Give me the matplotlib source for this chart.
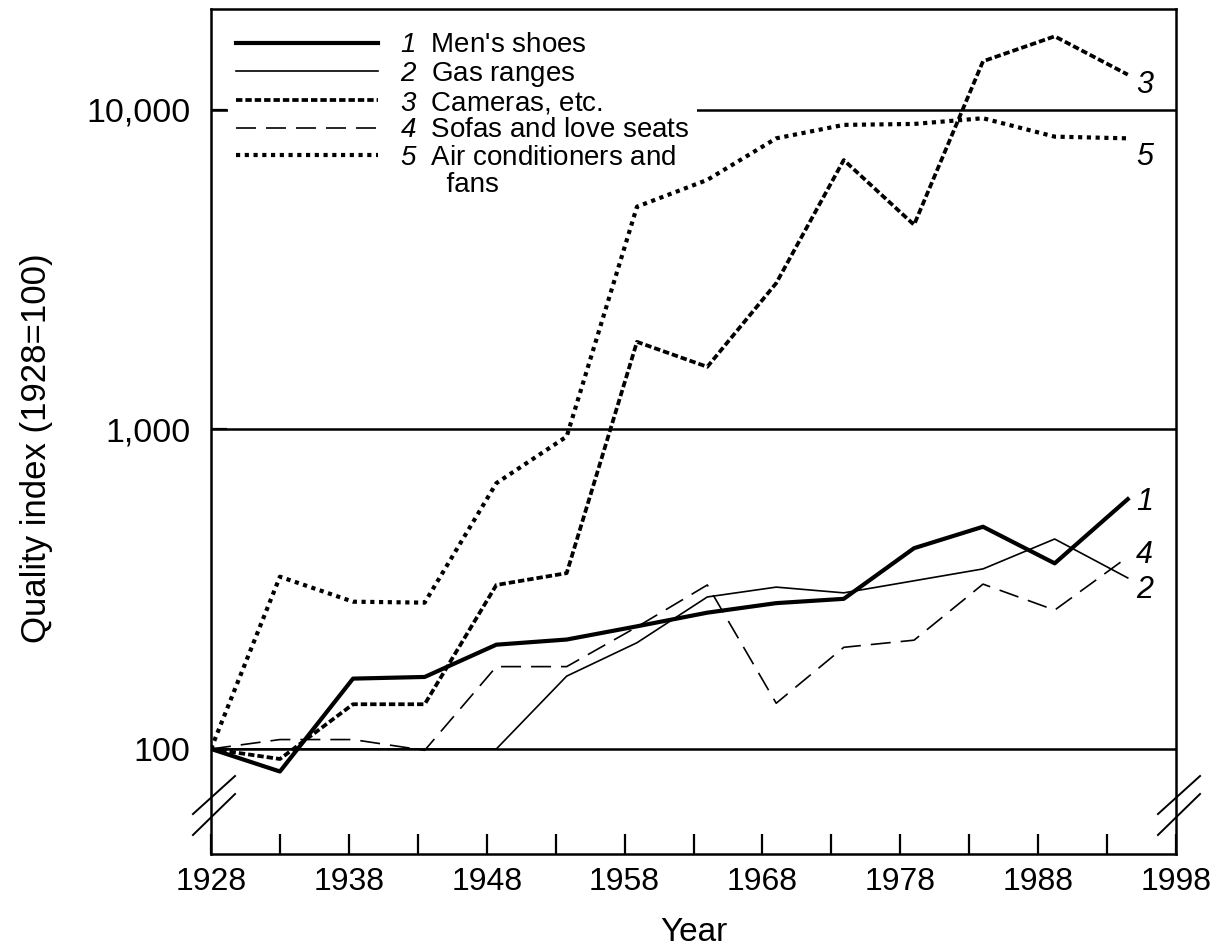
import matplotlib
matplotlib.use('Agg')
import matplotlib.pyplot as plt
from matplotlib.lines import Line2D
from matplotlib.ticker import NullLocator

plt.rcParams['font.family'] = ['Liberation Sans', 'DejaVu Sans']
plt.rcParams['mathtext.fontset'] = 'custom'
plt.rcParams['mathtext.rm'] = 'Liberation Sans'
plt.rcParams['mathtext.sf'] = 'Liberation Sans:italic'

# x positions of the survey points
years = [1928, 1933, 1938.3, 1943.5, 1948.7, 1953.8, 1958.9, 1964, 1969,
         1973.9, 1979, 1984, 1989.2, 1994.5]

shoes = [100, 85, 166, 168, 212, 220, 242, 267, 286, 295, 425, 496, 381, 605]
gas_ranges = [100, 100, 100, 100, 100, 169, 215, 299, 321, 308, 336, 366, 454, 343]
cameras = [100, 93, 138, 138, 326, 355, 1880, 1570, 2870, 6970, 4370, 14200, 17000, 12900]
sofas = [100, 107, 107, 99, 181, 181, 241, 326, 139, 208, 219, 328, 272, 399]
air_cond = [100, 346, 289, 287, 679, 950, 4980, 6040, 8150, 8980, 9040, 9420, 8250, 8150]

names = ["Men's shoes", "Gas ranges", "Cameras, etc.", "Sofas and love seats",
         "Air conditioners and"]
xticks = list(range(1928, 1999, 5))
xlabels = [str(y) if (y - 1928) % 10 == 0 else '' for y in xticks]
yticks = [100, 1000, 10000]
ylabels = ['100', '1,000', '10,000']

fig = plt.figure(figsize=(12.2, 9.52), dpi=100)
ax = fig.add_axes([211/1220, 1 - 854/952, 965/1220, 845/952])

l1, = ax.plot(years, shoes, color='black', lw=3.0, zorder=6)
l2, = ax.plot(years, gas_ranges, color='black', lw=1.2, zorder=6)
l3, = ax.plot(years, cameras, color='black', lw=2.7, ls=(0, (1.7, 0.8)), zorder=6)
l4, = ax.plot(years, sofas, color='black', lw=1.2, ls=(0, (12, 6)), zorder=6)
l5, = ax.plot(years, air_cond, color='black', lw=3.0, ls=(0, (1.0, 1.1)), zorder=6)

ax.set_yscale('log')
ax.set_xlim(1928, 1998)
ax.set_ylim(46.9, 20700)
ax.set_xticks(xticks)
ax.set_xticklabels(xlabels, fontsize=23)
ax.set_yticks(yticks)
ax.set_yticklabels(ylabels, fontsize=24.5)
ax.yaxis.set_minor_locator(NullLocator())
ax.tick_params(axis='x', direction='in', length=14.4, width=1.6, pad=9)
ax.tick_params(axis='y', direction='in', length=11.5, width=1.6, pad=15)
ax.yaxis.grid(True, color='black', lw=1.8)
ax.set_axisbelow(True)
for s in ax.spines.values():
    s.set_linewidth(1.8)

ax.set_xlabel('Year', fontsize=24)
ax.xaxis.set_label_coords(0.5, -0.074)
ax.set_ylabel('Quality index (1928=100)', fontsize=25)
ax.yaxis.set_label_coords(-0.164, 0.48)

# legend
handles = [l1, l2, l3, l4, l5, Line2D([], [], ls='none')]
labels = [r'$\mathsf{%d}$  %s' % (i + 1, n) for i, n in enumerate(names)]
labels.append('      fans')
leg = ax.legend(handles, labels, loc='upper left', bbox_to_anchor=(0.0176, 0.982),
                borderaxespad=0, borderpad=0.29, handlelength=5.1, handletextpad=0.8,
                labelspacing=0.05, fontsize=20, frameon=True, fancybox=False,
                edgecolor='none', facecolor='white', framealpha=1)
leg.set_zorder(5)

# series numbers at the right ends
ends = [(shoes, '1', -2), (sofas, '4', 1.6), (gas_ranges, '2', -9),
        (cameras, '3', -7.8), (air_cond, '5', -13.5)]
for series, lab, dy in ends:
    ax.annotate(lab, xy=(years[-1], series[-1]), xytext=(6, dy),
                textcoords='offset points', fontsize=22, fontstyle='italic',
                ha='left', va='center')

# axis break marks
for x0 in (0.0, 1.0):
    for ya, yb in ((0.0473, 0.0923), (0.0225, 0.0710)):
        ax.plot([x0 - 0.0187, x0 + 0.0249], [ya, yb], transform=ax.transAxes,
                color='black', lw=1.4, clip_on=False, zorder=7)

fig.savefig('out.png', dpi=100)
